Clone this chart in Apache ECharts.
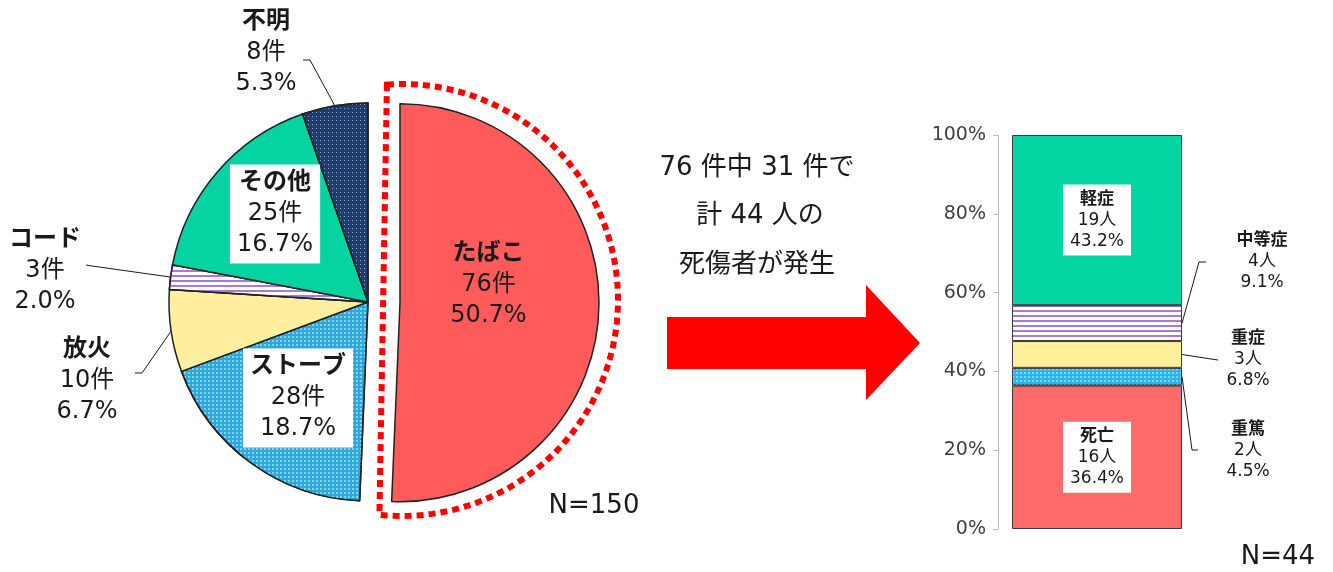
<!DOCTYPE html>
<html>
<head>
<meta charset="utf-8">
<title>出火原因と死傷者</title>
<script src="https://cdn.jsdelivr.net/npm/echarts@6/dist/echarts.min.js"></script>
<style>
  html, body { margin: 0; padding: 0; background: #fff; }
  #chart { width: 1333px; height: 572px; }
</style>
</head>
<body>
<div id="chart"></div>
<script>
// 出火原因（N=150）
const causeNames = ['たばこ', 'ストーブ', '放火', 'コード', 'その他', '不明'];
const causeCounts = [76, 28, 10, 3, 25, 8];
const causeRates = ['50.7', '18.7', '6.7', '2.0', '16.7', '5.3'];

// 死傷者の程度（N=44）
const injuryNames = ['死亡', '重篤', '重症', '中等症', '軽症'];
const injuryCounts = [16, 2, 3, 4, 19];
const injuryRates = [36.4, 4.5, 6.8, 9.1, 43.2];

// 縦軸の目盛り
const yTicks = [0, 20, 40, 60, 80, 100];

const FONT = '"DejaVu Sans", "Noto Sans CJK JP", sans-serif';
const BAR_W = 170;

// 模様（ドット・横縞・チェック）
const dots = { symbol: 'rect', symbolSize: 1, color: 'rgba(255,255,255,0.55)', dashArrayX: [1, 3], dashArrayY: [1, 3] };
const stripes = { symbol: 'rect', symbolSize: 1, color: '#A57BD6', dashArrayX: [1, 0], dashArrayY: [2, 3] };
const checker = { symbol: 'rect', symbolSize: 1, color: 'rgba(165,228,252,0.7)', dashArrayX: [2, 2], dashArrayY: [2, 2] };

const causeStyle = {
  'たばこ': { color: '#FF5B5B' },
  'ストーブ': { color: '#2EA8DC', decal: checker },
  '放火': { color: '#FFEF9E' },
  'コード': { color: '#FFFFFF', decal: stripes },
  'その他': { color: '#05D4A2' },
  '不明': { color: '#1F3D6C', decal: dots }
};

// ラベルの置き場所（line があるものは外側ラベル、たばこは切り出しに合わせて余白でずらす）
const pieLabelAt = {
  'たばこ': { shift: [0, 28, 40, 0] },
  'ストーブ': { x: 298, y: 398, box: true },
  'その他': { x: 275, y: 214, box: true },
  '不明': { x: 266, y: 53, line: [[310, 60], [303, 60]] },
  'コード': { x: 45, y: 271, line: [[92, 266], [86, 265]] },
  '放火': { x: 87, y: 381, line: [[142, 373], [135, 373]] }
};

const barStyle = {
  '死亡': { color: '#FF6B6B' },
  '重篤': { color: '#2DB3EE', decal: checker },
  '重症': { color: '#FFEE9A' },
  '中等症': { color: '#FFFFFF', decal: stripes },
  '軽症': { color: '#04D6A3' }
};

const barLabelAt = {
  '中等症': { x: 1262, y: 262, knee: [1199, 262], end: [1206, 262] },
  '重症': { x: 1248, y: 360, knee: [1211, 359], end: [1218, 360] },
  '重篤': { x: 1248, y: 451, knee: [1192, 450], end: [1198, 450] }
};

const pieData = causeNames.map((name, i) => {
  const at = pieLabelAt[name];
  const inside = !at.line;
  let label = { position: 'outside' };
  if (inside) {
    label = { position: 'inside', backgroundColor: at.box ? '#fff' : 'transparent', padding: at.box ? [3, 7] : at.shift };
  }
  return {
    name: name,
    value: causeCounts[i],
    selected: name === 'たばこ',
    itemStyle: causeStyle[name],
    select: { itemStyle: causeStyle[name] },
    label: label,
    labelLine: { show: !inside }
  };
});

// 点線の囲み（たばこ）
const framePoints = [];
for (let a = -4; a <= 186; a += 2) {
  const r = a * Math.PI / 180;
  framePoints.push([402 + 216 * Math.sin(r), 300 - 216 * Math.cos(r)]);
}

const arrowPoints = [[667, 317], [866, 317], [866, 285], [920, 343], [866, 400], [866, 369], [667, 369]];

const pieRich = {
  t: { fontSize: 24, fontWeight: 'bold', lineHeight: 31, color: '#1a1a1a', fontFamily: FONT, align: 'center' },
  v: { fontSize: 24, lineHeight: 31, color: '#1a1a1a', fontFamily: FONT, align: 'center' }
};
const barRich = {
  t: { fontSize: 17, fontWeight: 'bold', lineHeight: 21, color: '#1a1a1a', fontFamily: FONT, align: 'center' },
  v: { fontSize: 17, lineHeight: 21, color: '#1a1a1a', fontFamily: FONT, align: 'center' }
};

const barSeries = injuryNames.map((name, i) => {
  const side = barLabelAt[name];
  return {
    name: name,
    type: 'bar',
    stack: 'all',
    barWidth: BAR_W,
    data: [injuryRates[i]],
    itemStyle: Object.assign({ borderColor: '#3a3a3a', borderWidth: 1 }, barStyle[name]),
    emphasis: { disabled: true },
    label: {
      show: true,
      position: side ? 'right' : 'inside',
      backgroundColor: side ? 'transparent' : '#fff',
      padding: side ? 0 : [4, 7],
      formatter: () => `{t|${name}}\n{v|${injuryCounts[i]}人}\n{v|${injuryRates[i].toFixed(1)}%}`,
      rich: barRich
    },
    labelLayout: side ? () => ({ x: side.x, y: side.y, align: 'center', verticalAlign: 'middle' }) : null
  };
});

const chart = echarts.init(document.getElementById('chart'));

const textStyle = { fontSize: 26, fontFamily: FONT, fill: '#1a1a1a', align: 'center', verticalAlign: 'middle' };

const option = {
  animation: false,
  backgroundColor: '#fff',
  grid: { left: 998, top: 135, bottom: 43, width: 198 },
  xAxis: {
    type: 'category',
    data: [''],
    show: false
  },
  yAxis: {
    type: 'value',
    min: yTicks[0],
    max: yTicks[yTicks.length - 1],
    interval: yTicks[1] - yTicks[0],
    splitLine: { show: false },
    axisLine: { show: true, lineStyle: { color: '#BDBDBD', width: 1 } },
    axisTick: { show: true, length: 5, lineStyle: { color: '#BDBDBD' } },
    axisLabel: { formatter: '{value}%', color: '#404040', fontSize: 19, fontFamily: FONT, margin: 12 }
  },
  graphic: [
    {
      type: 'polygon', silent: true,
      shape: { points: framePoints },
      style: { fill: 'none', stroke: '#FF0000', lineWidth: 6, lineDash: [7, 5] }
    },
    {
      type: 'polygon', silent: true,
      shape: { points: arrowPoints },
      style: { fill: '#FF0000' }
    },
    { type: 'text', x: 757, y: 168, style: Object.assign({ text: '76 件中 31 件で' }, textStyle) },
    { type: 'text', x: 760, y: 216, style: Object.assign({ text: '計 44 人の' }, textStyle) },
    { type: 'text', x: 757, y: 265, style: Object.assign({ text: '死傷者が発生' }, textStyle) },
    { type: 'text', x: 594, y: 506, style: Object.assign({ text: 'N=150' }, textStyle) },
    { type: 'text', x: 1278, y: 557, style: Object.assign({ text: 'N=44' }, textStyle) }
  ],
  series: [
    {
      name: '出火原因',
      type: 'pie',
      center: [368, 302],
      radius: 199,
      startAngle: 90,
      clockwise: true,
      selectedMode: 'single',
      selectedOffset: 32,
      avoidLabelOverlap: false,
      itemStyle: { borderColor: '#222', borderWidth: 1.5 },
      emphasis: { disabled: true },
      label: {
        show: true,
        fontFamily: FONT,
        formatter: (p) => `{t|${p.name}}\n{v|${p.value}件}\n{v|${causeRates[p.dataIndex]}%}`,
        rich: pieRich
      },
      labelLine: { show: true, length: 10, length2: 8, lineStyle: { color: '#1a1a1a', width: 1 } },
      labelLayout: (p) => {
        const at = pieLabelAt[causeNames[p.dataIndex]];
        if (at.x == null) return {};
        const res = { x: at.x, y: at.y, align: 'center', verticalAlign: 'middle' };
        if (at.line && p.labelLinePoints) {
          res.labelLinePoints = [p.labelLinePoints[0], at.line[0], at.line[1]];
        }
        return res;
      },
      data: pieData
    }
  ].concat(barSeries)
};

chart.setOption(option);

// 棒グラフ外側ラベルの引き出し線（軸の座標変換から求める）
const mids = [];
let acc = 0;
injuryRates.forEach((v) => { mids.push(acc + v / 2); acc += v; });
const guides = [];
injuryNames.forEach((name, i) => {
  const side = barLabelAt[name];
  if (!side) return;
  const p = chart.convertToPixel({ gridIndex: 0 }, [0, mids[i]]);
  guides.push({
    type: 'polyline', silent: true,
    shape: { points: [[p[0] + BAR_W / 2, p[1]], side.knee, side.end] },
    style: { stroke: '#1a1a1a', lineWidth: 1, fill: 'none' }
  });
});
chart.setOption({ graphic: option.graphic.concat(guides) });
</script>
</body>
</html>
